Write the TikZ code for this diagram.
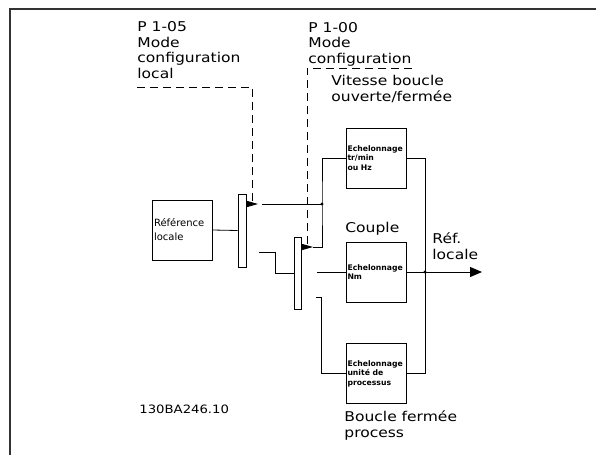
\documentclass[tikz,border=0pt]{standalone}
\usepackage{fontspec}
\setmainfont{DejaVu Sans}[FakeStretch=1.15]
\newfontfamily\boxfont{DejaVu Sans}
\usetikzlibrary{positioning, arrows.meta}

\begin{document}
\begin{tikzpicture}[
        x=1pt, y=-1pt, line width=0.8pt,
        block/.style={draw, fill=white, minimum height=60pt, text width=57pt,
            inner sep=1.5pt, align=left,
            font=\boxfont\bfseries\fontsize{7.7}{9.5}\selectfont},
        refbox/.style={draw, fill=white, minimum height=60pt, text width=56pt,
            inner sep=2pt, align=left, font=\boxfont\fontsize{10}{14}\selectfont},
        bar/.style={draw, fill=white, inner sep=0pt, minimum width=7pt},
        lbl/.style={anchor=base west, align=left, inner sep=0pt,
            font=\fontsize{13.5}{15.5}\selectfont},
        ctl/.style={dash pattern=on 8pt off 5pt},
        contact/.style={-{Triangle[length=11pt,width=6pt]}}
    ]
        \useasboundingbox (0,0) rectangle (596,455);
        % frame
        \draw[line width=1.8pt, black!80] (10,455) -- (10,9) -- (596,9);

        % blocks
        \node[refbox] (refloc) at (182,230) {Référence\\locale};
        \node[bar, minimum width=8pt, minimum height=73pt] (sw1) at (242,230.5) {};
        \node[bar, minimum height=72pt] (sw2) at (297.5,273) {};
        \node[block] (ech1) at (376,158) {Echelonnage\\tr/min\\ou Hz};
        \node[block] (ech2) at (376,272) {Echelonnage\\Nm};
        \node[block] (ech3) at (376,373.5) {Echelonnage\\unité de\\processus};

        % points
        \coordinate (t1) at (258,204);
        \coordinate (s1) at (262,204);
        \coordinate (j1) at (322,204);
        \coordinate (t2) at (313,247);
        \coordinate (c1) at (259,252);
        \coordinate (c2) at (317,272);
        \coordinate (c3) at (316,297);
        \coordinate (j2) at (425,272);
        \coordinate (out) at (482,272);
        \coordinate (d1) at (137,87);
        \coordinate (m1) at (252,201);
        \coordinate (d2) at (412,68);
        \coordinate (m2) at (307,244);

        % signal lines
        \draw (refloc.east) -- (sw1.west);
        \draw[contact] (sw1.east |- t1) -- (t1);
        \draw (s1) -- (j1);
        \draw (c1) -- ++(16,0) |- (sw2.west);
        \draw[contact] (sw2.east |- t2) -- (t2);
        \draw (t2) -| (j1) |- (ech1.west);
        \draw (c2) -- (ech2.west);
        \draw (c3) -- ++(5,0) |- (ech3.west);
        \draw (ech1.east) -| (j2);
        \draw (ech3.east) -| (j2);
        \draw (ech2.east) -- (j2);
        \draw[-{Triangle[length=12pt,width=10pt]}] (j2) -- (out);
        \fill (j1) circle (1.6pt);
        \fill (j2) circle (1.6pt);

        % parameter control
        \draw[ctl] (d1) -| (m1);
        \draw[ctl] (d2) -| (m2);

        % labels (base = last line)
        \node[lbl] (p105) at (137,78) {P 1-05\\Mode\\configuration\\local};
        \node[lbl] (p100) at (308,63) {P 1-00\\Mode\\configuration};
        \node[lbl] (vit) at (331,101) {Vitesse boucle\\ouverte/fermée};
        \node[lbl] (couple) at (345,232) {Couple};
        \node[lbl] (refout) at (432,259) {Réf.\\locale};
        \node[lbl] (bfp) at (344,437) {Boucle fermée\\process};
        \node[lbl, font=\fontsize{11.5}{14}\selectfont] (code) at (139,413) {130BA246.10};
    \end{tikzpicture}
\end{document}
